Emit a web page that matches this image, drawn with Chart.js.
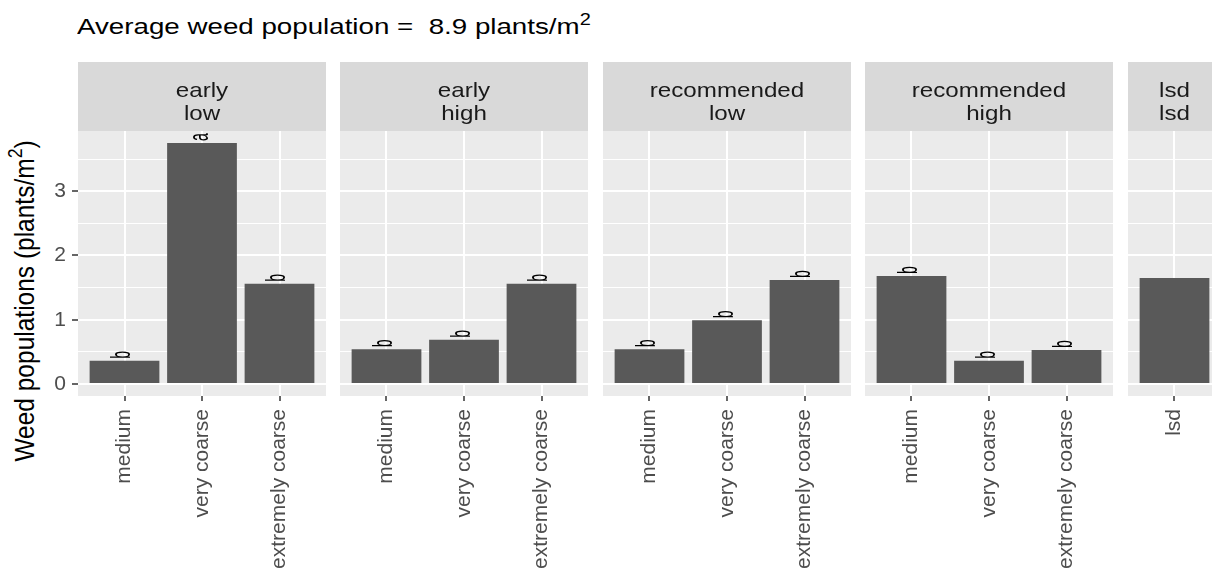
<!DOCTYPE html>
<html>
<head>
<meta charset="utf-8">
<script src="https://cdn.jsdelivr.net/npm/chart.js@4.4.1/dist/chart.umd.min.js"></script>
<style>
  html, body { margin: 0; padding: 0; background: #fff; overflow: hidden; width: 1212px; height: 573px; }
  #fig { position: relative; width: 1212px; height: 573px; overflow: hidden; font-family: 'Liberation Sans', Arial, sans-serif; }
  .panel { position: absolute; top: 62px; }
  .panel canvas { display: block; }
  #title { position: absolute; left: 77px; top: 16px; font-size: 22px; line-height: 22px; white-space: pre; color: #000;
           transform-origin: 0 50%; transform: scaleX(1.26); }
  #title sup, #ytitle sup { font-size: 0.72em; line-height: 0; vertical-align: 0; position: relative; top: -0.55em; }
  #ytitle { position: absolute; left: 25px; top: 301px; font-size: 24.5px; line-height: 1; white-space: nowrap; color: #000;
            transform: translate(-50%, -50%) rotate(-90deg) scaleY(1.15); }
</style>
</head>
<body>
<div id="fig">
  <div id="title">Average weed population =  8.9 plants/m<sup>2</sup></div>
  <div id="ytitle">Weed populations (plants/m<sup>2</sup>)</div>
</div>
<script>
// Facet strip labels (application timing / rate)
const facetTiming = ['early', 'early', 'recommended', 'recommended', 'lsd'];
const facetRate   = ['low', 'high', 'low', 'high', 'lsd'];

// Droplet size classes on each facet's x axis
const sizeCategories = ['medium', 'very coarse', 'extremely coarse'];
const lsdCategories  = ['lsd'];

// Weed populations (plants/m2)
const earlyLow  = [0.36, 3.75, 1.56];
const earlyHigh = [0.54, 0.69, 1.56];
const recLow    = [0.54, 0.99, 1.62];
const recHigh   = [1.68, 0.36, 0.53];
const lsdValue  = [1.65];

// Mean separation letters
const lettersEarlyLow  = ['b', 'a', 'b'];
const lettersEarlyHigh = ['b', 'b', 'b'];
const lettersRecLow    = ['b', 'b', 'b'];
const lettersRecHigh   = ['b', 'b', 'b'];
const lettersLsd       = [''];

// y axis breaks
const yTicks = [0, 1, 2, 3];

Chart.defaults.font.family = "'Liberation Sans', Arial, sans-serif";

const FONT = "'Liberation Sans', Arial, sans-serif";
const allValues = [].concat(earlyLow, earlyHigh, recLow, recHigh, lsdValue);
const dataMax = Math.max(...allValues);
const yMin = -0.05 * dataMax;
const yMax = dataMax * 1.05;
const minorTicks = yTicks.map(v => v + 0.5).filter(v => v < yMax);
const isMajor = v => yTicks.includes(v);

// Panel background, facet strip and bar letters
const facetPlugin = {
  id: 'facet',
  beforeDraw(chart, args, opts) {
    const ctx = chart.ctx, a = chart.chartArea;
    ctx.save();
    ctx.fillStyle = '#EBEBEB';
    ctx.fillRect(a.left, a.top, a.right - a.left, a.bottom - a.top);
    ctx.fillStyle = '#D9D9D9';
    ctx.fillRect(a.left, 0, a.right - a.left, a.top);
    ctx.fillStyle = '#1A1A1A';
    ctx.font = '21px ' + FONT;
    ctx.textAlign = 'center';
    ctx.textBaseline = 'alphabetic';
    const cx = (a.left + a.right) / 2;
    opts.lines.forEach((t, i) => {
      ctx.save();
      ctx.translate(cx, 35 + i * 23.3);
      ctx.scale(1.15, 1);
      ctx.fillText(t, 0, 0);
      ctx.restore();
    });
    ctx.restore();
  },
  afterDatasetsDraw(chart) {
    const ctx = chart.ctx;
    const ds = chart.data.datasets[0];
    const meta = chart.getDatasetMeta(0);
    ctx.save();
    ctx.fillStyle = '#000';
    ctx.font = '14px ' + FONT;
    ctx.textAlign = 'left';
    ctx.textBaseline = 'middle';
    meta.data.forEach((el, i) => {
      const lab = ds.letters[i];
      if (!lab) return;
      ctx.save();
      ctx.translate(el.x - 2, el.y - 2);
      ctx.scale(2.0, 1);
      ctx.rotate(-Math.PI / 2);
      ctx.fillText(lab, 0, 0);
      ctx.restore();
    });
    ctx.restore();
  }
};

const fig = document.getElementById('fig');
const AXIS_W = 78;
const CANVAS_H = 573 - 62;

function makePanel(idx, cats, vals, letters, left, width, withAxis) {
  const axisW = withAxis ? AXIS_W : 0;
  const holder = document.createElement('div');
  holder.className = 'panel';
  holder.style.left = (left - axisW) + 'px';
  const cv = document.createElement('canvas');
  cv.width = width + axisW;
  cv.height = CANVAS_H;
  cv.style.width = (width + axisW) + 'px';
  cv.style.height = CANVAS_H + 'px';
  holder.appendChild(cv);
  fig.appendChild(holder);

  new Chart(cv, {
    type: 'bar',
    data: {
      datasets: [{
        data: vals.map((v, i) => ({ x: i + 1, y: v })),
        letters: letters,
        backgroundColor: '#595959',
        borderWidth: 0,
        barPercentage: cats.length > 1 ? 0.9 : 0.75,
        categoryPercentage: 1
      }]
    },
    options: {
      responsive: false,
      animation: false,
      devicePixelRatio: 1,
      layout: { padding: { top: 69, left: 0, right: 0, bottom: 0 } },
      plugins: {
        legend: { display: false },
        tooltip: { enabled: false },
        facet: { lines: [facetTiming[idx], facetRate[idx]] }
      },
      scales: {
        x: {
          type: 'linear',
          offset: false,
          min: 0.4,
          max: cats.length + 0.6,
          afterBuildTicks: s => { s.ticks = cats.map((c, i) => ({ value: i + 1 })); },
          afterFit: s => { s.height = 177; },
          ticks: {
            autoSkip: false, minRotation: 90, maxRotation: 90, padding: 8,
            color: '#4D4D4D', font: { size: 21 },
            callback: (v, i) => cats[i]
          },
          grid: { offset: false, color: '#FFFFFF', lineWidth: 2, drawTicks: true, tickLength: 5, tickColor: '#333333', tickWidth: 1.5 },
          border: { display: false }
        },
        y: {
          min: yMin,
          max: yMax,
          afterBuildTicks: s => { s.ticks = yTicks.concat(minorTicks).sort((a, b) => a - b).map(v => ({ value: v })); },
          afterFit: s => { s.width = axisW; },
          ticks: {
            display: withAxis, padding: 6, color: '#4D4D4D', font: { size: 21 },
            callback: v => (isMajor(v) ? String(v) : '')
          },
          grid: {
            color: '#FFFFFF',
            lineWidth: c => (c.tick && isMajor(c.tick.value) ? 2 : 1),
            drawTicks: withAxis, tickLength: 6, tickWidth: 1.5,
            tickColor: c => (c.tick && isMajor(c.tick.value) ? '#333333' : 'rgba(0,0,0,0)')
          },
          border: { display: false }
        }
      }
    },
    plugins: [facetPlugin]
  });
}

const panelW = 248;
makePanel(0, sizeCategories, earlyLow,  lettersEarlyLow,  78,   panelW, true);
makePanel(1, sizeCategories, earlyHigh, lettersEarlyHigh, 340,  panelW, false);
makePanel(2, sizeCategories, recLow,    lettersRecLow,    603,  panelW, false);
makePanel(3, sizeCategories, recHigh,   lettersRecHigh,   865,  panelW, false);
makePanel(4, lsdCategories,  lsdValue,  lettersLsd,       1128, 93,     false);
</script>
</body>
</html>
